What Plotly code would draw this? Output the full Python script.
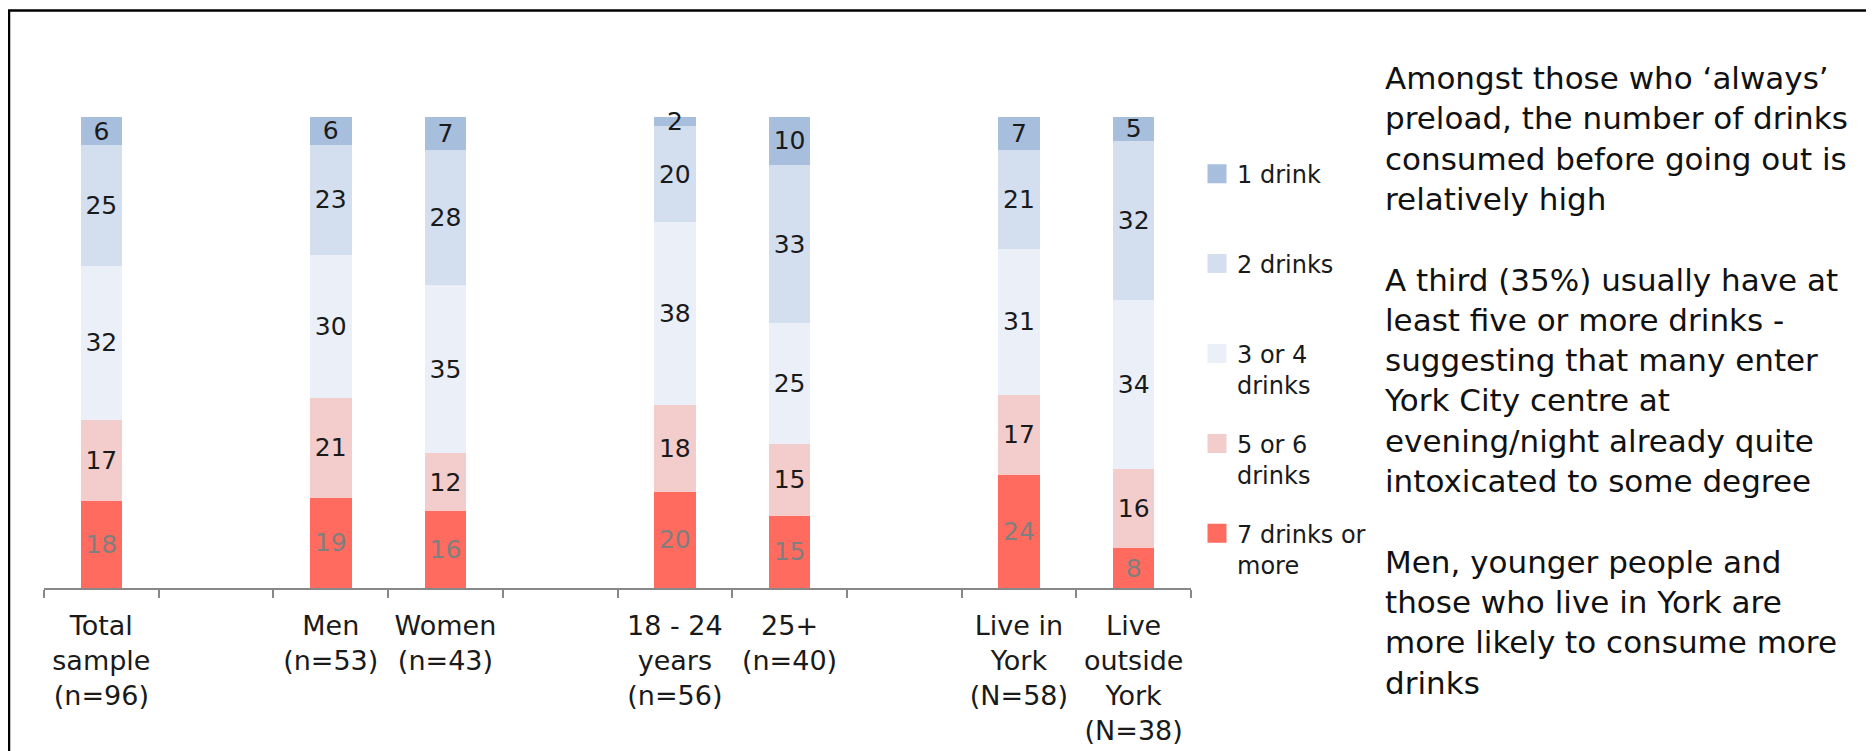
import plotly.graph_objects as go

categories = [
    "Total<br>sample<br>(n=96)", " ", "Men<br>(n=53)", "Women<br>(n=43)", "  ",
    "18 - 24<br>years<br>(n=56)", "25+<br>(n=40)", "   ",
    "Live in<br>York<br>(N=58)", "Live<br>outside<br>York<br>(N=38)",
]
series_names = ["7 drinks or<br>more", "5 or 6<br>drinks", "3 or 4<br>drinks", "2 drinks", "1 drink"]
seven_plus = [18, None, 19, 16, None, 20, 15, None, 24, 8]
five_six = [17, None, 21, 12, None, 18, 15, None, 17, 16]
three_four = [32, None, 30, 35, None, 38, 25, None, 31, 34]
two_drinks = [25, None, 23, 28, None, 20, 33, None, 21, 32]
one_drink = [6, None, 6, 7, None, 2, 10, None, 7, 5]

series_values = [seven_plus, five_six, three_four, two_drinks, one_drink]
colors = ["#FF6B5E", "#F2CDCC", "#EBF0F8", "#D3DEEF", "#A7BEDD"]
label_colors = ["#7f7f7f", "#1a1a1a", "#1a1a1a", "#1a1a1a", "#1a1a1a"]

commentary = (
    "Amongst those who ‘always’<br>preload, the number of drinks<br>"
    "consumed before going out is<br>relatively high<br><br>"
    "A third (35%) usually have at<br>least five or more drinks -<br>"
    "suggesting that many enter<br>York City centre at<br>"
    "evening/night already quite<br>intoxicated to some degree<br><br>"
    "Men, younger people and<br>those who live in York are<br>"
    "more likely to consume more<br>drinks"
)

FONT = "DejaVu Sans"
Y_TOP = 105  # headroom above 100% so small top labels are not clipped
fig = go.Figure()

for name, vals, col, lcol in zip(series_names, series_values, colors, label_colors):
    fig.add_trace(go.Bar(
        x=categories, y=vals, name=name,
        marker=dict(color=col, line=dict(width=0)),
        text=["" if v is None else str(v) for v in vals],
        textposition="inside", insidetextanchor="middle", textangle=0,
        constraintext="none",
        textfont=dict(family=FONT, size=25, color=lcol),
        showlegend=False, hoverinfo="x+y+name",
    ))

# legend entries (top to bottom)
for name, col in zip(series_names[::-1], colors[::-1]):
    label = name if "<br>" in name else name + "<br>\u00a0"
    fig.add_trace(go.Scatter(
        x=[None], y=[None], mode="markers", name=label, legendgroup=name,
        marker=dict(symbol="square", size=16, color=col, line=dict(color=col, width=3)),
        hoverinfo="skip",
    ))

# page body has an 8px margin; work in page pixels and shift
OFF = 8
W, H = 1874 - OFF, 751 - OFF
PL, PR, PB = 44, 1191, 588          # plot area in page pixels
P100 = 117                          # page y of the 100% line
unit = (PB - P100) / 100.0
PT = PB - unit * Y_TOP
L, R, T, B = PL - OFF, W - (PR - OFF), PT - OFF, H - (PB - OFF)
pw, ph = W - L - R, H - T - B

def px(xp):
    return (xp - PL) / pw

def py(yp):
    return (PB - yp) / ph

fig.add_annotation(
    x=px(1382), y=py(58), xref="paper", yref="paper", xanchor="left", yanchor="top",
    text=commentary, showarrow=False, align="left",
    font=dict(family=FONT, size=31, color="#111111"),
)

fig.add_shape(
    type="rect", xref="paper", yref="paper",
    x0=px(9), x1=px(2100), y0=py(900), y1=py(11),
    line=dict(color="black", width=2.5), fillcolor="rgba(0,0,0,0)", layer="above",
)

fig.update_layout(
    width=W, height=H,
    margin=dict(l=L, r=R, t=T, b=B, pad=0, autoexpand=False),
    barmode="stack", barnorm="percent", bargap=0.638,
    plot_bgcolor="white", paper_bgcolor="white",
    font=dict(family=FONT, size=26, color="#1a1a1a"),
    legend=dict(
        x=px(1197), y=py(152), xanchor="left", yanchor="top",
        font=dict(family=FONT, size=24, color="#1a1a1a"),
        valign="top", tracegroupgap=24.5, traceorder="grouped",
        bgcolor="rgba(0,0,0,0)", borderwidth=0,
    ),
    xaxis=dict(
        type="category", categoryorder="array", categoryarray=categories,
        tickson="boundaries", ticks="outside", ticklen=8, tickwidth=1.5, tickcolor="#888888",
        showline=True, linecolor="#888888", linewidth=1.5, showgrid=False,
        ticklabelstandoff=13, automargin=False,
        tickfont=dict(family=FONT, size=27, color="#1a1a1a"),
        fixedrange=True,
    ),
    yaxis=dict(range=[0, Y_TOP], visible=False, fixedrange=True, automargin=False),
    showlegend=True,
)

fig.write_html("out.html")
